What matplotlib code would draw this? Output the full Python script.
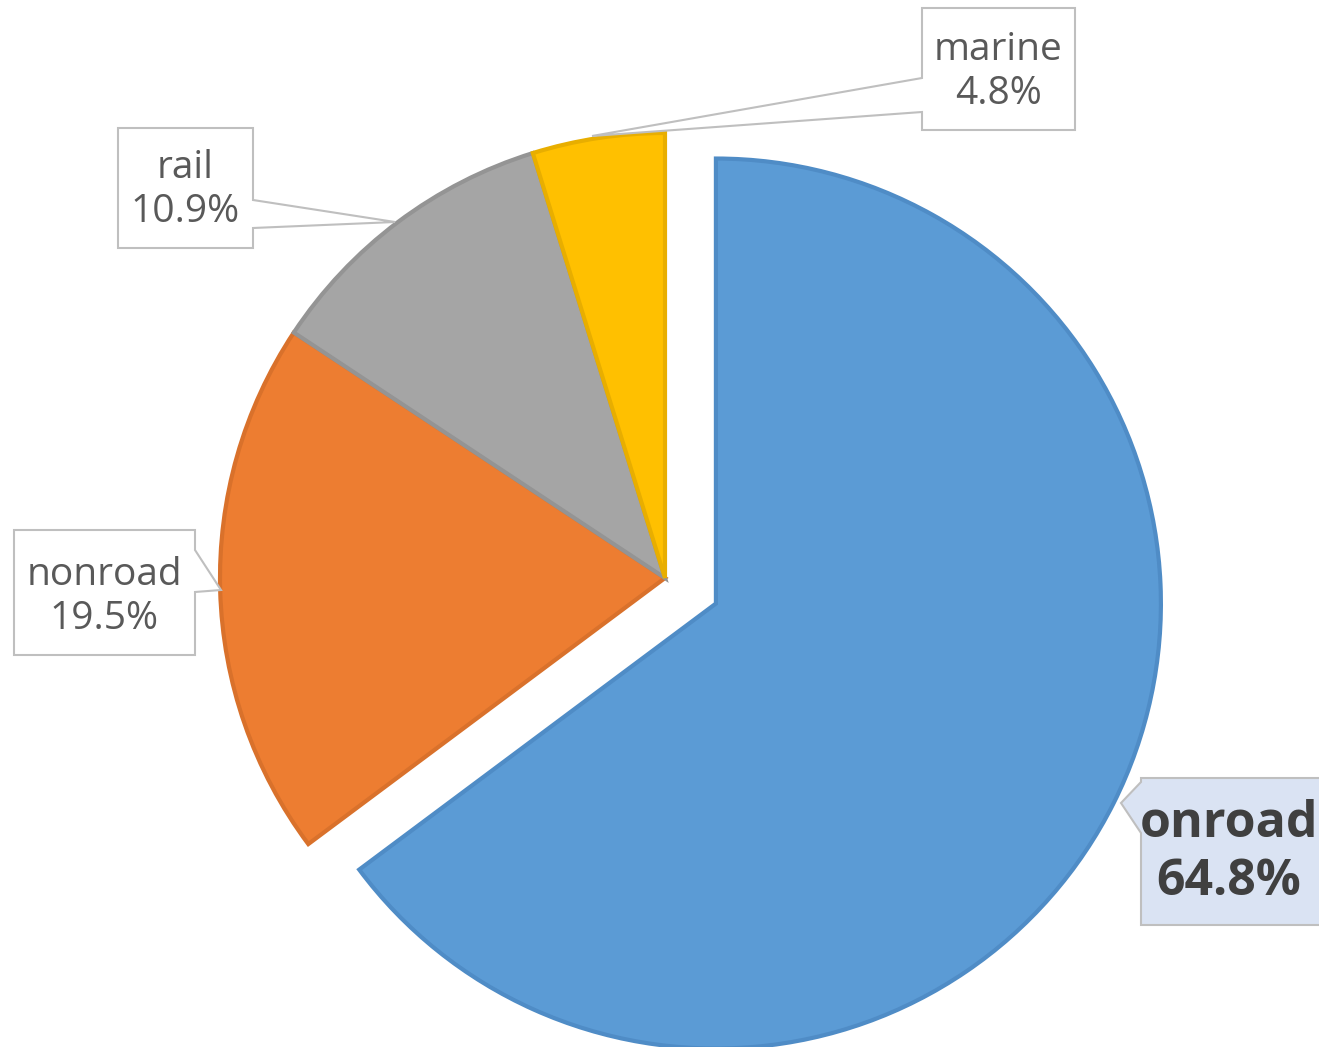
import matplotlib.pyplot as plt
from matplotlib.patches import Polygon

# ---- data ----
categories = ["onroad", "nonroad", "rail", "marine"]
shares = [64.8, 19.5, 10.9, 4.8]
fill_colors = ["#5B9BD5", "#ED7D31", "#A5A5A5", "#FFC000"]
edge_colors = ["#4F8CC6", "#D9712B", "#949494", "#E8AE00"]
explode_frac = [0.128, 0, 0, 0]

W, H = 1319, 1047
R = 445
plt.rcParams["font.family"] = ["Open Sans", "DejaVu Sans"]

fig = plt.figure(figsize=(W / 100, H / 100), dpi=100)
ax = fig.add_axes([0, 0, 1, 1])


def Y(py):
    # pixel row (top-down) -> data y (bottom-up)
    return H - py


# explode is in data units in matplotlib, so scale by the radius
ax.pie(shares, colors=fill_colors, explode=[e * R for e in explode_frac],
       startangle=90, counterclock=False, radius=R, center=(665, Y(578)),
       frame=True, wedgeprops=dict(linewidth=3.0))
for w, ec in zip(ax.patches, edge_colors):
    w.set_edgecolor(ec)
    w.set_joinstyle("miter")
ax.set_xlim(0, W)
ax.set_ylim(0, H)
ax.set_aspect("equal")
ax.axis("off")


def callout(pts, fc):
    poly = Polygon([(x, Y(y)) for x, y in pts], closed=True, facecolor=fc,
                   edgecolor="#BFBFBF", linewidth=1.5, zorder=5)
    ax.add_patch(poly)


# callout shapes (box + pointer) in pixel coords
callout([(922, 8), (1075, 8), (1075, 130), (922, 130), (922, 112),
         (592, 136), (922, 78)], "white")
callout([(118, 128), (253, 128), (253, 200), (395, 222), (253, 228),
         (253, 248), (118, 248)], "white")
callout([(14, 530), (195, 530), (195, 550), (221, 590), (195, 592),
         (195, 655), (14, 655)], "white")
callout([(1141, 778), (1330, 778), (1330, 925), (1141, 925), (1141, 833),
         (1121, 803), (1141, 782)], "#DAE3F3")

label_pos = {"onroad": (1229, 853), "nonroad": (104, 597),
             "rail": (185, 190), "marine": (998, 72)}

for cat, val in zip(categories, shares):
    x, y = label_pos[cat]
    txt = f"{cat}\n{val:.1f}%"
    if cat == "onroad":
        ax.text(x, Y(y), txt, ha="center", va="center", fontsize=36,
                fontweight="bold", color="#404040", linespacing=1.2,
                zorder=6)
    else:
        ax.text(x, Y(y), txt, ha="center", va="center", fontsize=28,
                color="#595959", linespacing=1.2, zorder=6)

fig.savefig("out.png", dpi=100)
